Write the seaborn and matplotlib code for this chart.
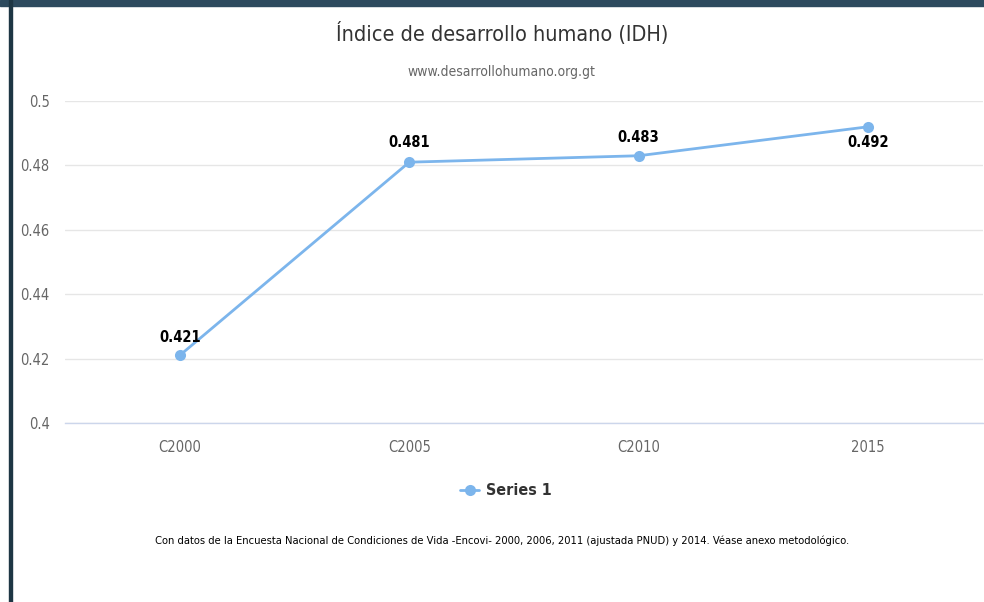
import pandas as pd
import seaborn as sns
import matplotlib.pyplot as plt
from matplotlib.patches import Rectangle

# data
categories = ['C2000', 'C2005', 'C2010', '2015']
idh = [0.421, 0.481, 0.483, 0.492]
series_name = 'Series 1'

df = pd.DataFrame({'periodo': categories, 'idh': idh})

sns.set_theme(style='white')
# narrow look like the original web font
plt.rcParams['font.family'] = ['DejaVu Sans']
plt.rcParams['font.stretch'] = 'condensed'

fig = plt.figure(figsize=(9.84, 6.02), dpi=100)
ax = fig.add_axes([65 / 984, 1 - 423 / 602, (983 - 65) / 984, (423 - 101) / 602])

line_color = '#7cb5ec'
sns.lineplot(data=df, x='periodo', y='idh', ax=ax, color=line_color, linewidth=2,
             marker='o', markersize=8, markeredgewidth=0, label=series_name, sort=False)

ax.set_xlim(-0.5, 3.5)
ax.set_ylim(0.4, 0.5)
ax.set_yticks([0.4, 0.42, 0.44, 0.46, 0.48, 0.5])
ax.set_yticklabels(['0.4', '0.42', '0.44', '0.46', '0.48', '0.5'])
ax.yaxis.grid(True, color='#e6e6e6', linewidth=1)
ax.set_axisbelow(True)
ax.set_xlabel('')
ax.set_ylabel('')
for s in ['top', 'right', 'left']:
    ax.spines[s].set_visible(False)
ax.spines['bottom'].set_color('#ccd6eb')
ax.spines['bottom'].set_linewidth(1)

# category band ticks between labels
ax.set_xticks([-0.5, 0.5, 1.5, 2.5, 3.5], minor=True)
ax.tick_params(axis='x', which='minor', length=10, color='#ccd6eb', width=1, direction='out')
ax.tick_params(axis='x', which='major', length=0, pad=12, labelsize=10.5, labelcolor='#666666')
ax.tick_params(axis='y', length=0, pad=11, labelsize=10.5, labelcolor='#666666')

# data labels (last one sits below the point)
offsets = [13, 14, 13, -11]
for i, (v, off) in enumerate(zip(idh, offsets)):
    ax.annotate(f'{v:.3f}', (i, v), xytext=(0, off), textcoords='offset points',
                ha='center', va='center', fontsize=10.5, fontweight='bold', color='#000000')

leg = ax.legend(loc='center', bbox_to_anchor=(0.5 - 0.02, -0.21), frameon=False,
                prop={'size': 11.5, 'weight': 'bold'}, handlelength=1.2, handletextpad=0.4)
for t in leg.get_texts():
    t.set_color('#333333')

fig.text(0.5 + 0.01, 1 - 33 / 602, 'Índice de desarrollo humano (IDH)', ha='center', va='center',
         fontsize=15.5, color='#333333')
fig.text(0.5 + 0.01, 1 - 72 / 602, 'www.desarrollohumano.org.gt', ha='center', va='center',
         fontsize=10, color='#666666')
fig.text(0.5 + 0.01, 1 - 541 / 602,
         'Con datos de la Encuesta Nacional de Condiciones de Vida -Encovi- 2000, 2006, 2011 '
         '(ajustada PNUD) y 2014. Véase anexo metodológico.',
         ha='center', va='center', fontsize=8, color='#000000')

# screenshot frame: dark top strip and left border
fig.patches.append(Rectangle((0, 1 - 6 / 602), 1, 6 / 602, transform=fig.transFigure,
                             color='#2d4a5e', zorder=0))
fig.patches.append(Rectangle((9 / 984, 0), 3 / 984, 1, transform=fig.transFigure,
                             color='#1e3644', zorder=0))

fig.savefig('out.png', dpi=100)
